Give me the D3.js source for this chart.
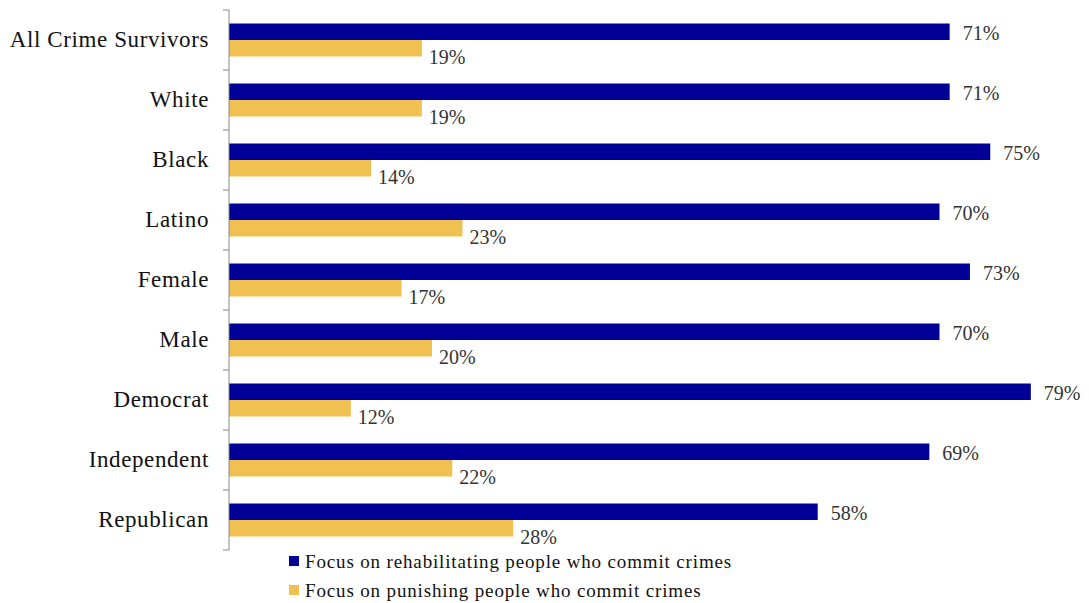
<!DOCTYPE html>
<html><head><meta charset="utf-8">
<script src="https://cdn.jsdelivr.net/npm/d3@7"></script>
<style>body{margin:0;background:#fff;} svg{display:block;}</style>
</head><body>
<svg id="chart" width="1089" height="603"></svg>
<script>
const categories = ["All Crime Survivors","White","Black","Latino","Female","Male","Democrat","Independent","Republican"];
const rehabilitate = [71,71,75,70,73,70,79,69,58];
const punish = [19,19,14,23,17,20,12,22,28];
const seriesNames = ["Focus on rehabilitating people who commit crimes","Focus on punishing people who commit crimes"];
const colors = ["#000096","#F0C050"];

const svg = d3.select("#chart");
const x = d3.scaleLinear().domain([0,80]).range([229, 229+80*10.15]);
const y = d3.scaleBand().domain(categories).range([10,550]);
const barH = 16.5;
const serif = "'Liberation Serif', 'DejaVu Serif', serif";

categories.forEach((c,i)=>{
  const cy = y(c) + y.bandwidth()/2;
  svg.append("rect").attr("x",x(0)).attr("y",cy-16.5).attr("width",x(rehabilitate[i])-x(0)).attr("height",barH).attr("fill",colors[0]);
  svg.append("rect").attr("x",x(0)).attr("y",cy).attr("width",x(punish[i])-x(0)).attr("height",barH).attr("fill",colors[1]);
  svg.append("text").attr("x",x(rehabilitate[i])+13).attr("y",cy-7).attr("dy","0.35em")
    .attr("font-family",serif).attr("font-size",20).attr("fill","#333").text(rehabilitate[i]+"%");
  svg.append("text").attr("x",x(punish[i])+7).attr("y",cy+17).attr("dy","0.35em")
    .attr("font-family",serif).attr("font-size",20).attr("fill","#333").text(punish[i]+"%");
});

// axis
const ax = svg.append("g").attr("transform",`translate(${x(0)},0)`)
  .call(d3.axisLeft(y).tickSize(0).tickPadding(20));
ax.select(".domain").attr("stroke","#888").attr("d","M0,10V550");
ax.selectAll("text").attr("font-family",serif).attr("font-size",23).attr("letter-spacing","0.6px").attr("fill","#111");
const ticks = d3.range(0,categories.length+1).map(i=>10+i*y.step());
svg.selectAll(".tk").data(ticks).enter().append("line")
  .attr("x1",x(0)-6).attr("x2",x(0)).attr("y1",d=>d).attr("y2",d=>d).attr("stroke","#888");

// legend
seriesNames.forEach((s,i)=>{
  const ly = 561 + i*29;
  svg.append("rect").attr("x",289).attr("y",ly-5).attr("width",10).attr("height",10).attr("fill",colors[i]);
  svg.append("text").attr("x",305).attr("y",ly).attr("dy","0.35em")
    .attr("font-family",serif).attr("font-size",19).attr("letter-spacing","0.85px").attr("fill","#111").text(s);
});
</script>
</body></html>
